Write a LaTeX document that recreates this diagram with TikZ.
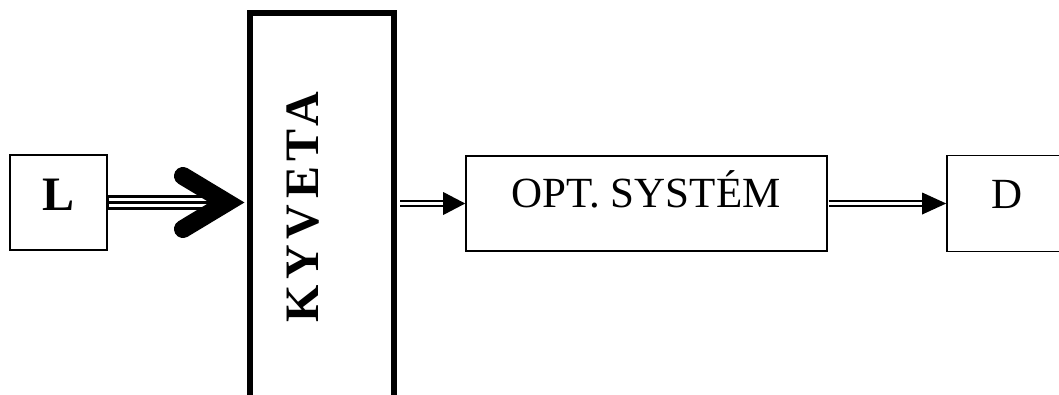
\documentclass[tikz,border=0pt]{standalone}
\usepackage{fontspec}
\setmainfont{Liberation Serif}
\usetikzlibrary{calc}
\tikzset{
  box/.style={draw, line width=1.6pt, inner sep=0pt},
  thickbox/.style={draw, line width=6pt, inner sep=0pt},
  lbl/.style={font=\fontsize{43}{43}\selectfont, inner sep=0pt, anchor=base},
  blbl/.style={font=\fontsize{48}{48}\selectfont\bfseries, inner sep=0pt, anchor=base},
  dbl/.style={double, double distance=3pt, line width=2pt},
  head/.style={fill=black, draw=none},
}
\begin{document}
\begin{tikzpicture}[x=1pt,y=-1pt]
\useasboundingbox (0,0) rectangle (1059,394);
% boxes
\node[box, minimum width=97pt, minimum height=95pt] (L) at (58.5,202.5) {};
\node[thickbox, minimum width=144pt, minimum height=420pt] (K) at (322,222.5) {};
\node[box, minimum width=361pt, minimum height=95pt] (O) at (646.5,203.5) {};
\node[box, minimum width=160pt, minimum height=96pt] (D) at (1027,203.5) {};
% texts
\node[blbl] (Lt) at (58.5,210.5) {L};
\node[blbl, rotate=90] (Kt) at (318,207.5) {\addfontfeature{LetterSpace=12}KYVETA};
\node[lbl] (Ot) at (646,207.7) {OPT. SYSTÉM};
\node[lbl] (Dt) at (1007.5,208) {D};
% arrow L -> KYVETA (triple line, chevron head)
\coordinate (ktip) at (L.east -| K.west);
\draw[line width=15pt] (L.east) -- ($(ktip)+(-30,0)$);
\draw[white, line width=9pt, shorten <=0.8pt] (L.east) -- ($(ktip)+(-30,0)$);
\draw[line width=3pt, shorten <=0.8pt] (L.east) -- ($(ktip)+(-30,0)$);
\draw[line width=18pt, line cap=round, line join=miter]
  ($(ktip)+(-64,-26.5)$) -- ($(ktip)+(-20,0)$) -- ($(ktip)+(-64,26.5)$);
% arrow KYVETA -> OPT
\draw[dbl] ($(K.east |- O.west)+(3,0)$) -- ($(O.west)+(-20,0)$);
\fill[head] (O.west) -- ++(-22,-11.5) -- ++(0,23) -- cycle;
% arrow OPT -> D
\draw[dbl, shorten <=0.8pt] (O.east) -- ($(D.west)+(-20,0)$);
\fill[head] (D.west) -- ++(-24,-11) -- ++(0,22) -- cycle;
\end{tikzpicture}
\end{document}
